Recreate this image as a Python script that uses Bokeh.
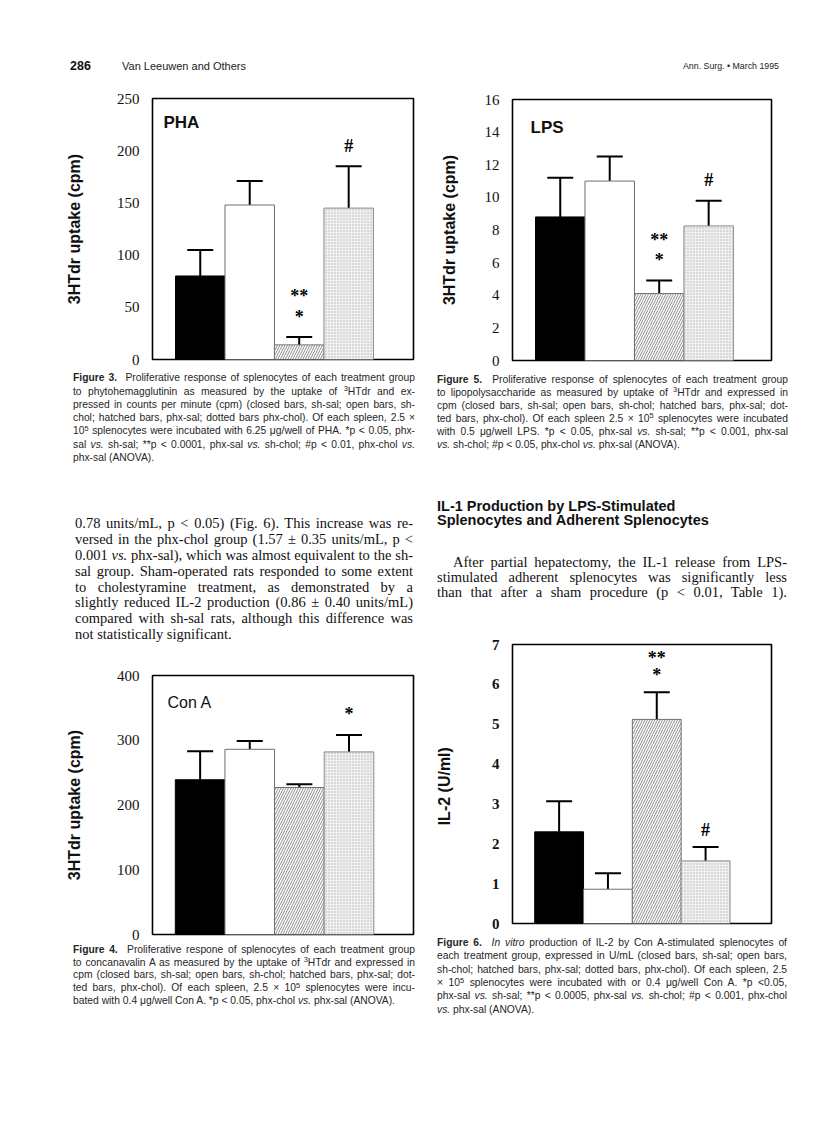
from bokeh.plotting import figure
from bokeh.models import ColumnDataSource, Range1d, FixedTicker, Whisker, TeeHead, Div, Label, LabelSet
from bokeh.layouts import column, row
from bokeh.embed import file_html
from bokeh.resources import INLINE

# ---------------- data ----------------
groups = ["sh-sal", "sh-chol", "phx-sal", "phx-chol"]
bar_x = [1, 2, 3, 4]

pha_mean = [80, 148, 14, 145]
pha_err = [25, 23, 7.5, 40]
pha_sig1 = ["", "", "*", "#"]
pha_sig2 = ["", "", "**", ""]
pha_ticks = [0, 50, 100, 150, 200, 250]

lps_mean = [8.8, 11.0, 4.1, 8.25]
lps_err = [2.4, 1.5, 0.8, 1.55]
lps_sig1 = ["", "", "*", "#"]
lps_sig2 = ["", "", "**", ""]
lps_ticks = [0, 2, 4, 6, 8, 10, 12, 14, 16]

cona_mean = [239, 286, 227, 282]
cona_err = [44, 13, 5, 26]
cona_sig1 = ["", "", "", "*"]
cona_sig2 = ["", "", "", ""]
cona_ticks = [0, 100, 200, 300, 400]

il2_mean = [2.3, 0.86, 5.12, 1.57]
il2_err = [0.77, 0.40, 0.68, 0.35]
il2_sig1 = ["", "", "*", "#"]
il2_sig2 = ["", "", "**", ""]
il2_ticks = [0, 1, 2, 3, 4, 5, 6, 7]

ylab_uptake = "3HTdr uptake (cpm)"
ylab_il2 = "IL-2  (U/ml)"

header_left_num = "286"
header_left_txt = "Van Leeuwen and Others"
header_right_txt = "Ann. Surg. \u2022 March 1995"

SUP = '<span style="position:relative;top:-0.45em;font-size:72%;line-height:0;">{}</span>'

cap3 = [
    "<b>Figure 3.</b>&nbsp; Proliferative response of splenocytes of each treatment group",
    "to phytohemagglutinin as measured by the uptake of " + SUP.format("3") + "HTdr and ex-",
    "pressed in counts per minute (cpm) (closed bars, sh-sal; open bars, sh-",
    "chol; hatched bars, phx-sal; dotted bars phx-chol). Of each spleen, 2.5 \u00d7",
    "10" + SUP.format("5") + " splenocytes were incubated with 6.25 \u03bcg/well of PHA. *p &lt; 0.05, phx-",
    "sal <i>vs.</i> sh-sal; **p &lt; 0.0001, phx-sal <i>vs.</i> sh-chol; #p &lt; 0.01, phx-chol <i>vs.</i>",
    "phx-sal (ANOVA).",
]
cap5 = [
    "<b>Figure 5.</b>&nbsp; Proliferative response of splenocytes of each treatment group",
    "to lipopolysaccharide as measured by uptake of " + SUP.format("3") + "HTdr and expressed in",
    "cpm (closed bars, sh-sal; open bars, sh-chol; hatched bars, phx-sal; dot-",
    "ted bars, phx-chol). Of each spleen 2.5 \u00d7 10" + SUP.format("5") + " splenocytes were incubated",
    "with 0.5 \u03bcg/well LPS. *p &lt; 0.05, phx-sal <i>vs.</i> sh-sal; **p &lt; 0.001, phx-sal",
    "<i>vs.</i> sh-chol; #p &lt; 0.05, phx-chol <i>vs.</i> phx-sal (ANOVA).",
]
cap4 = [
    "<b>Figure 4.</b>&nbsp; Proliferative respone of splenocytes of each treatment group",
    "to concanavalin A as measured by the uptake of " + SUP.format("3") + "HTdr and expressed in",
    "cpm (closed bars, sh-sal; open bars, sh-chol; hatched bars, phx-sal; dot-",
    "ted bars, phx-chol). Of each spleen, 2.5 \u00d7 10" + SUP.format("5") + " splenocytes were incu-",
    "bated with 0.4 \u03bcg/well Con A. *p &lt; 0.05, phx-chol <i>vs.</i> phx-sal (ANOVA).",
]
cap6 = [
    "<b>Figure 6.</b>&nbsp; <i>In vitro</i> production of IL-2 by Con A-stimulated splenocytes of",
    "each treatment group, expressed in U/mL (closed bars, sh-sal; open bars,",
    "sh-chol; hatched bars, phx-sal; dotted bars, phx-chol). Of each spleen, 2.5",
    "\u00d7 10" + SUP.format("5") + " splenocytes were incubated with or 0.4 \u03bcg/well Con A. *p &lt;0.05,",
    "phx-sal <i>vs.</i> sh-sal; **p &lt; 0.0005, phx-sal <i>vs.</i> sh-chol; #p &lt; 0.001, phx-chol",
    "<i>vs.</i> phx-sal (ANOVA).",
]
body_left = [
    "0.78 units/mL, p &lt; 0.05) (Fig. 6). This increase was re-",
    "versed in the phx-chol group (1.57 \u00b1 0.35 units/mL, p &lt;",
    "0.001 <i>vs.</i> phx-sal), which was almost equivalent to the sh-",
    "sal group. Sham-operated rats responded to some extent",
    "to cholestyramine treatment, as demonstrated by a",
    "slightly reduced IL-2 production (0.86 \u00b1 0.40 units/mL)",
    "compared with sh-sal rats, although this difference was",
    "not statistically significant.",
]
heading_right = [
    "IL-1 Production by LPS-Stimulated",
    "Splenocytes and Adherent Splenocytes",
]
body_right = [
    "After partial hepatectomy, the IL-1 release from LPS-",
    "stimulated adherent splenocytes was significantly less",
    "than that after a sham procedure (p &lt; 0.01, Table 1).",
]

# bar styles (closed, open, hatched, dotted)
bar_fill = ["black", "white", "white", "#f0f0f0"]
bar_line = ["black", "#6e6e6e", "#6e6e6e", "#8a8a8a"]
bar_hatch = [" ", " ", "/", "."]
bar_hcolor = ["black", "black", "#707070", "#b4b4b4"]
bar_hscale = [5, 5, 5, 3]
bar_hweight = [0.8, 0.8, 0.8, 0.5]

SANS = "Liberation Sans, Arial, Helvetica, sans-serif"
SERIF = "Liberation Serif, Times New Roman, serif"


def bar_chart(means, errs, sig1, sig2, ticks, ylabel, title, title_style,
              xr, ytop, width, height, bl, br, bt, bb, lab_standoff,
              tick_style, title_dx, title_dy, dy1, dy2):
    p = figure(width=width, height=height, x_range=Range1d(*xr), y_range=Range1d(0, ytop),
               output_backend="svg", toolbar_location=None, tools="",
               min_border_left=bl, min_border_right=br, min_border_top=bt, min_border_bottom=bb)
    p.margin = (0, 0, 0, 0)
    p.xaxis.visible = False
    p.xgrid.visible = False
    p.ygrid.visible = False
    p.background_fill_color = "white"
    p.border_fill_color = "white"
    p.outline_line_color = "black"
    p.outline_line_width = 1.6
    p.outline_line_alpha = 1.0
    ax = p.yaxis[0]
    ax.ticker = FixedTicker(ticks=ticks)
    ax.major_tick_line_color = None
    ax.minor_tick_line_color = None
    ax.axis_line_color = None
    ax.major_label_standoff = 7
    ax.major_label_text_font = "Liberation Serif"
    ax.major_label_text_font_size = "15px"
    ax.major_label_text_font_style = tick_style
    ax.major_label_text_color = "#111111"
    ax.axis_label = ylabel
    ax.axis_label_text_font = "Liberation Sans"
    ax.axis_label_text_font_size = "16px"
    ax.axis_label_text_font_style = "bold"
    ax.axis_label_text_color = "#111111"
    ax.axis_label_standoff = lab_standoff

    upper = [m + e for m, e in zip(means, errs)]
    src = ColumnDataSource(dict(x=bar_x, top=means, upper=upper, fill=bar_fill, line=bar_line,
                                hatch=bar_hatch, hcolor=bar_hcolor, hscale=bar_hscale,
                                hweight=bar_hweight, s1=sig1, s2=sig2, grp=groups))
    p.vbar(x="x", top="top", bottom=0, width=1.0, fill_color="fill", line_color="line",
           line_width=1, hatch_pattern="hatch", hatch_color="hcolor", hatch_scale="hscale",
           hatch_weight="hweight", source=src)
    p.add_layout(Whisker(source=src, base="x", lower="top", upper="upper",
                         line_color="black", line_width=2,
                         upper_head=TeeHead(size=26, line_width=2, line_color="black"),
                         lower_head=None))
    p.add_layout(LabelSet(source=src, x="x", y="upper", text="s1", y_offset=dy1,
                          text_align="center", text_baseline="middle",
                          text_font="Liberation Serif", text_font_size="18px",
                          text_font_style="bold", text_color="black"))
    p.add_layout(LabelSet(source=src, x="x", y="upper", text="s2", y_offset=dy2,
                          text_align="center", text_baseline="middle",
                          text_font="Liberation Serif", text_font_size="18px",
                          text_font_style="bold", text_color="black"))
    if title:
        p.add_layout(Label(x=xr[0], y=ytop, x_offset=title_dx, y_offset=-title_dy, text=title,
                           text_baseline="top", text_align="left", text_font="Liberation Sans",
                           text_font_size="17px" if title_style == "bold" else "16px",
                           text_font_style=title_style, text_color="#111111"))
    return p


def text_div(ox, oy, w, h, items):
    parts = []
    for (txt, left, cy, width, font, size, weight, justify, color) in items:
        lh = size * 1.2
        top = cy - lh / 2 - oy
        align = ("text-align:justify;text-align-last:justify;" if justify
                 else "text-align:left;")
        parts.append(
            f'<div style="position:absolute;left:{left - ox:.1f}px;top:{top:.1f}px;'
            f'width:{width}px;font-family:{font};font-size:{size}px;line-height:{lh:.1f}px;'
            f'font-weight:{weight};color:{color};{align}">{txt}</div>')
    html = (f'<div style="position:relative;width:{w}px;height:{h}px;">' + "".join(parts) + "</div>")
    d = Div(text=html, width=w, height=h)
    d.margin = (0, 0, 0, 0)
    return d


def para(lines, left, cy0, step, width, font, size, color, last_justify=False, indent_first=0,
         weight="normal", justify=True):
    out = []
    for i, t in enumerate(lines):
        j = (True if i < len(lines) - 1 else last_justify) and justify
        l = left + (indent_first if i == 0 else 0)
        wdt = width - (indent_first if i == 0 else 0)
        out.append((t, l, cy0 + i * step, wdt, font, size, weight, j, color))
    return out


CAPC = "#262626"
BODYC = "#111111"
CAPF = 10.3

# ---------- left column (page x 0..428) ----------
L1 = text_div(0, 0, 428, 85, [
    (header_left_num, 70, 66.5, 40, SANS, 12.5, "bold", False, "#111"),
    (header_left_txt, 122, 66.5, 200, SANS, 11, "normal", False, "#222"),
])
fig3 = bar_chart(pha_mean, pha_err, pha_sig1, pha_sig2, pha_ticks, ylab_uptake, "PHA", "bold",
                 (0.035, 5.31), 250, 428, 284, 152, 15, 13, 10, 31, "normal", 11, 14, 20, 41)
L2 = text_div(0, 369, 428, 286,
              para(cap3, 73, 378.5, 13.25, 342, SANS, CAPF, CAPC)
              + para(body_left, 75, 524, 15.8, 338, SERIF, 14.5, BODYC))
fig4 = bar_chart(cona_mean, cona_err, cona_sig1, cona_sig2, cona_ticks, ylab_uptake, "Con  A", "normal",
                 (0.04, 5.30), 400, 428, 288, 151, 15, 20, 9, 31, "normal", 15, 18, 21, 41)
L3 = text_div(0, 943, 428, 102, para(cap4, 73, 950, 12.75, 342, SANS, CAPF, CAPC))

# ---------- right column (page x 428..803) ----------
R1 = text_div(428, 0, 375, 85, [
    (f'<div style="text-align:right">{header_right_txt}</div>', 660, 66.5, 119, SANS, 8.8,
     "normal", False, "#222"),
])
fig5 = bar_chart(lps_mean, lps_err, lps_sig1, lps_sig2, lps_ticks, ylab_uptake, "LPS", "bold",
                 (0.035, 5.27), 16, 375, 285, 84, 32, 14, 10, 24, "normal", 18, 18, 21, 41)
R2 = text_div(428, 370, 375, 264,
              para(cap5, 437, 380, 13.0, 351, SANS, CAPF, CAPC)
              + para(heading_right, 437, 506.5, 14.5, 350, SANS, 14.5, "#111", weight="bold",
                     justify=False)
              + para(body_right, 437, 562.5, 15.0, 350, SERIF, 14.5, BODYC, last_justify=True,
                     indent_first=16))
fig6 = bar_chart(il2_mean, il2_err, il2_sig1, il2_sig2, il2_ticks, ylab_il2, None, "bold",
                 (0.045, 5.35), 7, 375, 302, 70, 25, 10, 13, 36, "bold", 0, 0, 17, 34)
R3 = text_div(428, 936, 375, 109, para(cap6, 437, 943.3, 13.3, 350, SANS, CAPF, CAPC))

left = column(L1, fig3, L2, fig4, L3, spacing=0)
right = column(R1, fig5, R2, fig6, R3, spacing=0)
page = row(left, right, spacing=0)

open("out.html", "w").write(file_html(page, INLINE, title="Van Leeuwen and Others"))
